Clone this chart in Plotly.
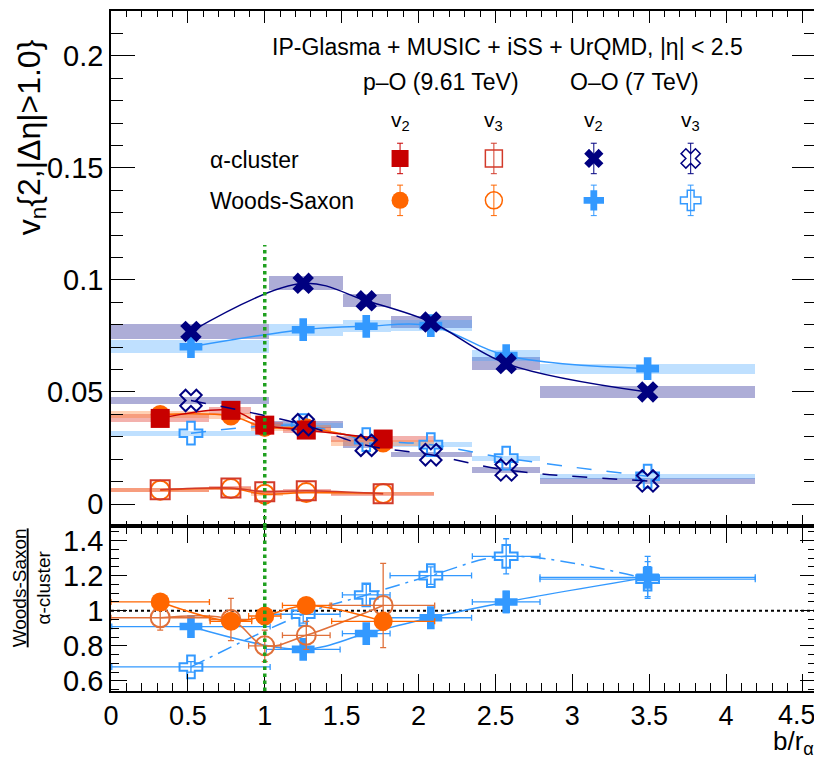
import plotly.graph_objects as go

# ---------------- data ----------------
# O–O (7 TeV) bins in b/r_alpha
oo_lo = [0.0, 1.03, 1.51, 1.82, 2.35, 2.79]
oo_hi = [1.03, 1.51, 1.82, 2.35, 2.79, 4.19]
oo_x = [0.52, 1.25, 1.66, 2.08, 2.57, 3.49]
oo_v2_alpha = [0.0770, 0.0985, 0.0907, 0.0812, 0.0627, 0.0500]
oo_v2_ws = [0.0702, 0.0778, 0.0793, 0.0796, 0.0662, 0.0604]
oo_v3_alpha = [0.0462, 0.0354, 0.0262, 0.0220, 0.0152, 0.0103]
oo_v3_ws = [0.0316, 0.0350, 0.0287, 0.0265, 0.0205, 0.0124]
oo_v2_alpha_sys = [0.0032, 0.0031, 0.0030, 0.0027, 0.0030, 0.0028]
oo_v2_ws_sys = [0.0030, 0.0026, 0.0027, 0.0025, 0.0024, 0.0022]
oo_v3_alpha_sys = [0.0016, 0.0016, 0.0014, 0.0012, 0.0012, 0.0012]
oo_v3_ws_sys = [0.0012, 0.0012, 0.0012, 0.0011, 0.0011, 0.0011]

# p–O (9.61 TeV) bins
po_lo = [0.0, 0.64, 0.91, 1.12, 1.43]
po_hi = [0.64, 0.91, 1.12, 1.43, 2.10]
po_x = [0.32, 0.78, 1.0, 1.27, 1.77]
po_v2_alpha = [0.0382, 0.0418, 0.0352, 0.0330, 0.0290]
po_v2_ws = [0.0400, 0.0393, 0.0342, 0.0340, 0.0272]
po_v3_alpha = [0.0064, 0.0072, 0.0055, 0.0059, 0.0046]
po_v3_ws = [0.0062, 0.0069, 0.0044, 0.0051, 0.0047]
po_v2_alpha_sys = [0.0018, 0.0016, 0.0015, 0.0014, 0.0013]
po_v2_ws_sys = [0.0016, 0.0015, 0.0014, 0.0013, 0.0012]
po_v3_alpha_sys = [0.0009, 0.0009, 0.0008, 0.0008, 0.0008]
po_v3_ws_sys = [0.0008, 0.0008, 0.0008, 0.0008, 0.0008]

# ratios Woods-Saxon / alpha-cluster
po_v2_ratio = [1.05, 0.94, 0.97, 1.03, 0.94]
po_v2_ratio_err = [0.03, 0.04, 0.03, 0.03, 0.05]
po_v3_ratio = [0.96, 0.95, 0.80, 0.86, 1.03]
po_v3_ratio_err = [0.07, 0.12, 0.09, 0.08, 0.24]
oo_v2_ratio = [0.91, 0.78, 0.87, 0.96, 1.05, 1.19]
oo_v2_ratio_err = [0.02, 0.03, 0.03, 0.03, 0.06, 0.12]
oo_v3_ratio = [0.68, 0.98, 1.09, 1.20, 1.31, 1.18]
oo_v3_ratio_err = [0.03, 0.05, 0.06, 0.05, 0.10, 0.10]

# axis tick labels (the last one, at the frame edge, is placed as text below)
x_tickvals = [0, 0.5, 1, 1.5, 2, 2.5, 3, 3.5, 4, 4.5]
x_ticktext = ["0", "0.5", "1", "1.5", "2", "2.5", "3", "3.5", "4", ""]
x_last_tick = 4.5
x_last_label = "4.5"

# legend marker positions (main-panel coordinates)
leg_cols = [1.88, 2.49, 3.14, 3.77]
leg_rows = [0.1542, 0.1355]

B_OVER_R = 1.0          # green reference line
GREEN_TOP = 0.1156

FONT = "Liberation Sans, Arial, sans-serif"

C_PO_A = "#c80000"
C_PO_A3 = "#d23a2a"
C_PO_W = "#ff6600"
C_OO_A = "#000080"
C_OO_W = "#3399ff"
B_PO_A = "rgba(225,60,50,0.40)"
B_PO_W = "rgba(255,120,40,0.35)"
B_OO_A = "rgba(40,40,150,0.38)"
B_OO_W = "rgba(60,160,255,0.33)"

fig = go.Figure()


def widths(lo, hi):
    return [h - l for l, h in zip(lo, hi)]


def centers(lo, hi):
    return [(l + h) / 2 for l, h in zip(lo, hi)]


def box(lo, hi, vals, sys, color):
    fig.add_trace(go.Bar(
        x=centers(lo, hi), y=[2 * s for s in sys],
        base=[v - s for v, s in zip(vals, sys)],
        width=widths(lo, hi), marker=dict(color=color, line=dict(width=0)),
        xaxis="x", yaxis="y", showlegend=False, hoverinfo="skip"))


box(oo_lo, oo_hi, oo_v2_alpha, oo_v2_alpha_sys, B_OO_A)
box(oo_lo, oo_hi, oo_v2_ws, oo_v2_ws_sys, B_OO_W)
box(oo_lo, oo_hi, oo_v3_alpha, oo_v3_alpha_sys, B_OO_A)
box(oo_lo, oo_hi, oo_v3_ws, oo_v3_ws_sys, B_OO_W)
box(po_lo, po_hi, po_v2_alpha, po_v2_alpha_sys, B_PO_A)
box(po_lo, po_hi, po_v2_ws, po_v2_ws_sys, B_PO_W)
box(po_lo, po_hi, po_v3_alpha, po_v3_alpha_sys, B_PO_A)
box(po_lo, po_hi, po_v3_ws, po_v3_ws_sys, B_PO_W)


def series(x, y, color, symbol, dash="solid", size=19, lcolor=None, xa="x", ya="y",
           ex=None, ey=None, lw=1.5):
    m = dict(color=color, symbol=symbol, size=size)
    if symbol.endswith("open"):
        m["line"] = dict(color=color, width=2)
    else:
        m["line"] = dict(width=0)
    tr = go.Scatter(x=x, y=y, mode="lines+markers", marker=m,
                    line=dict(color=lcolor or color, width=lw, dash=dash, shape="spline", smoothing=1.0),
                    xaxis=xa, yaxis=ya, showlegend=False, hoverinfo="skip")
    if ex is not None:
        tr.error_x = dict(type="data", array=ex, color=lcolor or color, thickness=1.3, width=3)
    if ey is not None:
        tr.error_y = dict(type="data", array=ey, color=lcolor or color, thickness=1.3, width=3)
    fig.add_trace(tr)


# main panel
series(oo_x, oo_v2_ws, C_OO_W, "cross")
series(oo_x, oo_v3_ws, C_OO_W, "cross-open", dash="longdash")
series(po_x, po_v3_ws, C_PO_W, "circle-open")
series(po_x, po_v3_alpha, C_PO_A3, "square-open")
series(po_x, po_v2_ws, C_PO_W, "circle")
series(po_x, po_v2_alpha, C_PO_A, "square")
series(oo_x, oo_v2_alpha, C_OO_A, "x")
series(oo_x, oo_v3_alpha, C_OO_A, "x-open", dash="longdash")

# ratio panel
oo_ex = [w / 2 for w in widths(oo_lo, oo_hi)]
po_ex = [w / 2 for w in widths(po_lo, po_hi)]
series(oo_x, oo_v3_ratio, C_OO_W, "cross-open", dash="longdashdot", xa="x2", ya="y2", ex=oo_ex, ey=oo_v3_ratio_err)
series(oo_x, oo_v2_ratio, C_OO_W, "cross", xa="x2", ya="y2", ex=oo_ex, ey=oo_v2_ratio_err)
series(po_x, po_v3_ratio, "#e0703a", "circle-open", xa="x2", ya="y2", ex=po_ex, ey=po_v3_ratio_err)
series(po_x, po_v2_ratio, C_PO_W, "circle", xa="x2", ya="y2", ex=po_ex, ey=po_v2_ratio_err)

# legend markers
leg_alpha = [(C_PO_A, "square"), (C_PO_A3, "square-open"), (C_OO_A, "x"), (C_OO_A, "x-open")]
leg_ws = [(C_PO_W, "circle"), (C_PO_W, "circle-open"), (C_OO_W, "cross"), (C_OO_W, "cross-open")]
for row, items in zip(leg_rows, [leg_alpha, leg_ws]):
    for cx, (col, sym) in zip(leg_cols, items):
        m = dict(color=col, symbol=sym, size=17)
        m["line"] = dict(color=col, width=1.5) if sym.endswith("open") else dict(width=0)
        fig.add_trace(go.Scatter(x=[cx], y=[row], mode="markers", marker=m,
                                 error_y=dict(type="data", array=[0.0068], color=col, thickness=1, width=3),
                                 xaxis="x", yaxis="y", showlegend=False, hoverinfo="skip"))

# reference lines
fig.add_shape(type="line", xref="x", yref="y", x0=B_OVER_R, x1=B_OVER_R, y0=-0.01, y1=GREEN_TOP,
              line=dict(color="#1fa01f", width=3.5, dash="dot"))
fig.add_shape(type="line", xref="x2", yref="y2 domain", x0=B_OVER_R, x1=B_OVER_R, y0=0, y1=1,
              line=dict(color="#1fa01f", width=3.5, dash="dot"))
fig.add_shape(type="line", xref="x2 domain", yref="y2", x0=0, x1=1, y0=1, y1=1,
              line=dict(color="black", width=2, dash="dot"), layer="below")

XR = [0, 4.585]
ax_common = dict(showline=True, linecolor="black", linewidth=1.5, mirror="ticks", ticks="inside",
                 tickcolor="black", tickwidth=1.3, showgrid=False, zeroline=False)
xfont = dict(family=FONT, size=27, color="black")
yfont = dict(family=FONT, size=29, color="black")

# the page body adds an 8 px offset, so the figure is sized/margined to compensate
fig.update_layout(
    width=814, height=752,
    margin=dict(l=103, r=6, t=1, b=69),
    paper_bgcolor="white", plot_bgcolor="white",
    barmode="overlay", bargap=0,
    xaxis=dict(domain=[0, 1], anchor="y", range=XR, dtick=0.5, tick0=0, ticklen=12,
               showticklabels=False,
               minor=dict(dtick=0.1, ticklen=6, ticks="inside", tickcolor="black", tickwidth=1.3),
               **ax_common),
    yaxis=dict(domain=[0.242, 1], anchor="x", range=[-0.01, 0.22], dtick=0.05, tick0=0, ticklen=24,
               tickfont=yfont,
               minor=dict(dtick=0.01, ticklen=12, ticks="inside", tickcolor="black", tickwidth=1.3),
               **ax_common),
    xaxis2=dict(domain=[0, 1], anchor="y2", range=XR, tickvals=x_tickvals, ticktext=x_ticktext,
                ticklen=17, tickfont=xfont,
                minor=dict(dtick=0.1, ticklen=8, ticks="inside", tickcolor="black", tickwidth=1.3),
                **ax_common),
    yaxis2=dict(domain=[0, 0.242], anchor="x2", range=[0.543, 1.48], dtick=0.2, tick0=0.6, ticklen=16,
                tickfont=yfont,
                minor=dict(dtick=0.05, ticklen=8, ticks="inside", tickcolor="black", tickwidth=1.3),
                **ax_common),
)

txt = dict(family=FONT, color="black")
ann = [
    dict(text="IP-Glasma + MUSIC + iSS + UrQMD, |η| < 2.5", x=0.563, y=0.947, size=23),
    dict(text="p–O (9.61 TeV)", x=0.468, y=0.896, size=23),
    dict(text="O–O (7 TeV)", x=0.742, y=0.896, size=23),
    dict(text="v<sub>2</sub>", x=0.411, y=0.838, size=21),
    dict(text="v<sub>3</sub>", x=0.543, y=0.838, size=21),
    dict(text="v<sub>2</sub>", x=0.684, y=0.838, size=21),
    dict(text="v<sub>3</sub>", x=0.822, y=0.838, size=21),
    dict(text="α-cluster", x=0.137, y=0.781, size=23, xanchor="left"),
    dict(text="Woods-Saxon", x=0.137, y=0.720, size=23, xanchor="left"),
]
for a in ann:
    fig.add_annotation(text=a["text"], x=a["x"], y=a["y"], xref="paper", yref="paper",
                       xanchor=a.get("xanchor", "center"), yanchor="middle", showarrow=False,
                       font=dict(size=a["size"], **txt))

# last x tick label, nudged left so it stays inside the page
fig.add_annotation(text=x_last_label, x=x_last_tick, y=0, xref="x2", yref="y2 domain",
                   xanchor="center", yanchor="top", xshift=-6, yshift=-7, showarrow=False,
                   font=xfont)

fig.add_annotation(text="v<sub>n</sub>{2,|Δη|>1.0}", x=-0.113, y=0.815, xref="paper", yref="paper",
                   textangle=-90, showarrow=False, xanchor="center", yanchor="middle",
                   font=dict(size=32, **txt))
fig.add_annotation(text="<u>Woods-Saxon</u><br>α-cluster", x=-0.112, y=0.151, xref="paper", yref="paper",
                   textangle=-90, showarrow=False, xanchor="center", yanchor="middle",
                   font=dict(size=19, **txt))
fig.add_annotation(text="b/r<sub>α</sub>", x=1.0, y=-0.075, xref="paper", yref="paper",
                   showarrow=False, xanchor="right", yanchor="middle", font=dict(size=26, **txt))

fig.write_html("out.html")
